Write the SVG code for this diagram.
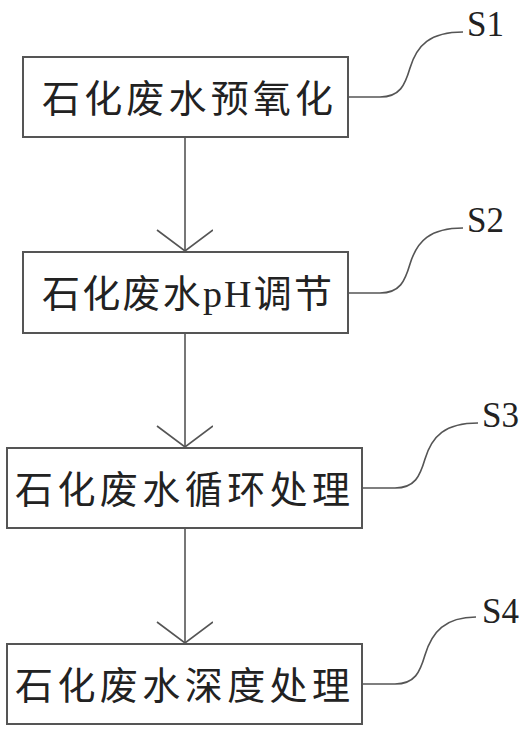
<svg xmlns="http://www.w3.org/2000/svg" width="529" height="732" viewBox="0 0 529 732">
<style>
.box{fill:#fff;stroke:#555;stroke-width:2}
.t{font-family:"Noto Sans CJK SC","Noto Sans CJK JP",sans-serif;font-size:38px;fill:#222}
.s{font-family:"Liberation Serif",serif;font-size:35px;fill:#222}
.ln{fill:none;stroke:#555;stroke-width:1.6}
</style>
<defs>
<marker id="v" markerWidth="30" markerHeight="60" refX="22" refY="28" orient="auto" markerUnits="userSpaceOnUse" viewBox="0 0 30 60">
<path d="M1,0 L22,28 L1,56" fill="none" stroke="#555" stroke-width="1.6"/>
</marker>
</defs>
<rect width="529" height="732" fill="#fff"/>
<g id="connectors">
<path class="ln" d="M185,138 V251" marker-end="url(#v)"/>
<path class="ln" d="M185,333 V447" marker-end="url(#v)"/>
<path class="ln" d="M185,528 V643" marker-end="url(#v)"/>
<path class="ln" d="M348,97 H380 C400,97 405,85 410,68 C417,45 430,32 463,32"/>
<path class="ln" d="M348,293 H380 C400,293 405,281 410,264 C417,241 430,228 463,228"/>
<path class="ln" d="M362,488 H395 C415,488 420,476 425,459 C432,436 445,423 478,423"/>
<path class="ln" d="M362,684 H395 C415,684 420,672 425,655 C432,632 445,617 476,617"/>
</g>
<g id="S1"><rect class="box" x="23" y="57" width="325" height="80"/><text class="t" x="42" y="112" textLength="291" lengthAdjust="spacing">石化废水预氧化</text><text class="s" x="467" y="36">S1</text></g>
<g id="S2"><rect class="box" x="23" y="252" width="325" height="81"/><text class="t" x="42" y="307" textLength="290" lengthAdjust="spacing">石化废水<tspan style="font-family:'Liberation Serif',serif">pH</tspan>调节</text><text class="s" x="467" y="232">S2</text></g>
<g id="S3"><rect class="box" x="7" y="448" width="355" height="80"/><text class="t" x="15" y="503" textLength="335" lengthAdjust="spacing">石化废水循环处理</text><text class="s" x="482" y="427">S3</text></g>
<g id="S4"><rect class="box" x="7" y="644" width="355" height="80"/><text class="t" x="15" y="699" textLength="335" lengthAdjust="spacing">石化废水深度处理</text><text class="s" x="482" y="623">S4</text></g>
</svg>
